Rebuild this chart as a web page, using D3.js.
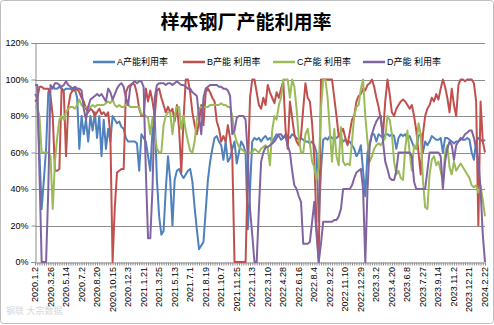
<!DOCTYPE html>
<html><head><meta charset="utf-8">
<script src="https://cdn.jsdelivr.net/npm/d3@7"></script>
<style>
html,body{margin:0;padding:0;background:#fff;}
svg{display:block;}
text{font-family:"Liberation Sans","DejaVu Sans","Noto Sans CJK SC",sans-serif;}
</style>
</head><body>
<svg id="chart" width="494" height="325"></svg>
<script>
const title = "样本钢厂产能利用率";
const seriesNames = ["A产能利用率", "B产能 利用率", "C产能 利用率", "D产能 利用率"];
const seriesColors = ["#4F81BD", "#C0504D", "#9BBB59", "#8064A2"];
const tickLabels = ["2020.1.2","2020.3.26","2020.5.14","2020.7.2","2020.8.20","2020.10.15","2020.12.3","2021.1.21","2021.3.25","2021.5.13","2021.7.1","2021.8.19","2021.10.7","2021.11.25","2022.1.13","2022.3.10","2022.4.28","2022.6.16","2022.8.4","2022.9.22","2022.11.10","2022.12.29","2023.3.2","2023.4.20","2023.6.8","2023.7.27","2023.9.14","2023.11.2","2023.12.21","2024.2.22"];
const yTicks = [0, 20, 40, 60, 80, 100, 120];

const seriesA = [92,90,60,29,45,62,93,95,96,95, 95,96,95,94,95,95,95,94,95,90, 62,80,70,78,66,80,72,82,68,80, 58,78,62,73,66,80,78,76,77,74,
 73,68,66,66,66,66,65,50,70,68, 66,58,50,72,80,45,25,15,17,40, 58,45,20,45,50,51,48,46,48,50, 51,44,30,18,7,9,11,28,45,55,
 62,68,69,66,64,56,66,55,57,62, 66,54,60,66,64,60,18,40,66,68, 67,68,66,68,69,67,68,66,68,70, 69,67,68,70,69,68,70,69,68,67,
 68,67,66,66,65,66,64,60,22,50, 67,68,67,69,68,67,68,69,68,66, 67,65,66,64,62,58,60,64,50,36, 60,65,70,70,66,70,69,68,70,70,
 69,70,69,62,68,70,69,70,68,69, 66,63,62,69,70,60,66,64,66,69, 68,67,67,68,60,68,68,67,66,65, 66,66,68,67,67,68,67,60,56,66,
 68,67,66,67];
const seriesB = [88,89,96,96,95,95,95,91,80,50, 50,51,95,93,58,85,92,94,94,95, 93,90,88,84,82,84,83,80,82,84, 81,82,80,82,70,0,30,49,50,51,
 51,93,96,97,98,97,92,84,80,80, 95,88,94,88,80,94,95,90,86,82, 85,82,84,77,86,73,49,78,100,100, 93,82,75,70,77,86,75,93,95,93,
 90,88,77,73,66,69,66,75,68,58, 0,0,0,0,0,0,50,90,100,100, 93,86,84,90,86,97,93,90,87,93, 90,95,99,73,62,88,79,70,66,64,
 69,84,98,90,88,76,57,20,0,100, 100,100,100,100,100,90,80,69,71,73, 68,64,71,78,80,88,91,92,95,94, 97,98,100,96,90,85,78,70,88,100,
 92,82,80,84,86,88,89,88,86,84, 86,80,72,60,48,70,80,84,86,90, 88,92,89,95,100,96,90,82,95,86, 80,97,100,100,99,100,100,100,98,88,
 20,88,66,60];
const seriesC = [85,85,80,60,60,60,60,58,29,55, 68,78,80,78,82,84,85,85,84,86, 89,86,85,85,85,85,86,85,86,86, 86,86,87,88,87,89,86,85,86,85,
 85,86,86,85,85,85,85,85,81,81, 80,79,70,79,70,62,60,60,75,80, 82,82,70,80,85,85,73,80,72,66, 61,60,66,78,84,85,85,85,85,86,
 86,86,86,86,87,86,86,85,85,80, 70,66,63,62,61,60,60,60,60,62, 61,60,62,63,64,62,53,72,80,78, 86,90,100,100,100,90,100,96,84,68,
 60,60,70,73,65,55,52,45,52,84, 100,100,90,72,55,73,58,53,74,55, 53,54,53,66,80,85,86,95,100,80, 66,55,58,62,64,65,64,66,68,80,
 78,70,55,48,50,46,45,62,72,60, 50,64,62,76,70,45,30,29,48,56, 58,53,55,50,44,60,64,52,48,55, 50,52,54,52,50,48,46,42,41,42,
 38,42,34,25];
const seriesD = [97,97,50,0,0,0,40,97,95,98, 98,97,96,97,99,97,96,95,96,95, 95,94,84,78,85,89,90,91,92,91, 92,90,88,95,93,89,92,95,97,98,
 96,90,86,96,98,99,98,99,99,96, 50,13,13,40,90,97,98,98,98,97, 98,98,97,98,99,98,97,97,96,95, 95,93,92,91,80,70,90,95,96,97,
 97,97,97,96,96,95,95,94,91,70, 72,79,80,80,80,78,58,29,15,0, 0,29,55,60,63,63,64,65,66,68, 70,70,68,69,64,60,50,42,40,36,
 33,10,10,10,11,22,33,15,0,10, 22,22,22,22,22,23,23,25,29,40, 40,40,40,42,46,49,50,51,40,0, 40,64,70,74,77,79,80,66,55,51,
 46,45,45,50,60,60,60,60,60,60, 58,44,40,40,40,40,40,50,60,60, 60,60,60,58,40,55,62,66,64,56, 64,66,67,68,70,71,72,72,68,62,
 56,40,15,0];

const allSeries = [seriesA, seriesB, seriesC, seriesD];
const N = seriesA.length;
const categories = d3.range(N);
const tickEvery = 7;

const svg = d3.select("#chart");
const W = 494, H = 325;
const L = 35, R = 485, T = 43, B = 262;

svg.append("rect").attr("x", 0.5).attr("y", 0.5).attr("width", W - 1).attr("height", H - 2)
  .attr("rx", 3).attr("fill", "#fff").attr("stroke", "#bdbdbd").attr("stroke-width", 1);

const x = d3.scalePoint().domain(categories).range([L, R]);
const y = d3.scaleLinear().domain([0, 120]).range([B, T]);

// gridlines
svg.append("g").selectAll("line").data(yTicks.filter(d => d > 0)).join("line")
  .attr("x1", L).attr("x2", R).attr("y1", d => Math.round(y(d)) + 0.5).attr("y2", d => Math.round(y(d)) + 0.5)
  .attr("stroke", "#8c8c8c").attr("stroke-width", 1);

// y axis
const yAxis = svg.append("g").attr("transform", `translate(${L + 0.5},0)`)
  .call(d3.axisLeft(y).tickValues(yTicks).tickFormat(d => d + "%").tickSize(4).tickPadding(3));
yAxis.select(".domain").attr("stroke", "#8c8c8c");
yAxis.selectAll(".tick line").attr("stroke", "#8c8c8c");
yAxis.selectAll(".tick text").attr("font-size", 9).attr("fill", "#000")
  .attr("font-family", "Liberation Sans, DejaVu Sans, sans-serif");

// x axis
const xAxis = svg.append("g").attr("transform", `translate(0,${B + 0.5})`)
  .call(d3.axisBottom(x).tickValues(categories).tickFormat(() => "").tickSize(3).tickSizeOuter(0));
xAxis.select(".domain").attr("stroke", "#8c8c8c");
xAxis.selectAll(".tick line").attr("stroke", "#8c8c8c");

svg.append("g").selectAll("text").data(tickLabels).join("text")
  .attr("transform", (d, k) => `translate(${x(k * tickEvery) + 3},${B + 5}) rotate(-90)`)
  .attr("text-anchor", "end").attr("font-size", 9).attr("fill", "#000")
  .text(d => d);

// lines
const line = d3.line().x((d, i) => x(i)).y(d => y(d));
svg.append("g").selectAll("path").data(allSeries).join("path")
  .attr("d", d => line(d)).attr("fill", "none")
  .attr("stroke", (d, i) => seriesColors[i]).attr("stroke-width", 2)
  .attr("stroke-linejoin", "round");

// title
svg.append("text").attr("x", 246).attr("y", 29).attr("text-anchor", "middle")
  .attr("font-size", 19).attr("font-weight", "bold").attr("fill", "#000")
  .attr("font-family", "Noto Sans CJK SC, sans-serif").text(title);

// legend
const legendX = [93, 183, 273, 363];
const lg = svg.append("g").selectAll("g").data(seriesNames).join("g")
  .attr("transform", (d, i) => `translate(${legendX[i]},62)`);
lg.append("line").attr("x1", 0).attr("x2", 22).attr("y1", 0).attr("y2", 0)
  .attr("stroke", (d, i) => seriesColors[i]).attr("stroke-width", 2.5);
lg.append("text").attr("x", 24).attr("y", 0).attr("dy", "0.35em").attr("font-size", 9)
  .attr("fill", "#000").attr("font-family", "Noto Sans CJK SC, sans-serif").text(d => d);

// watermark
svg.append("text").attr("x", 6).attr("y", 314).attr("font-size", 9).attr("fill", "#d8d8d8")
  .attr("font-family", "Noto Sans CJK SC, sans-serif").text("钢联 大宗数据");
</script>
</body></html>
